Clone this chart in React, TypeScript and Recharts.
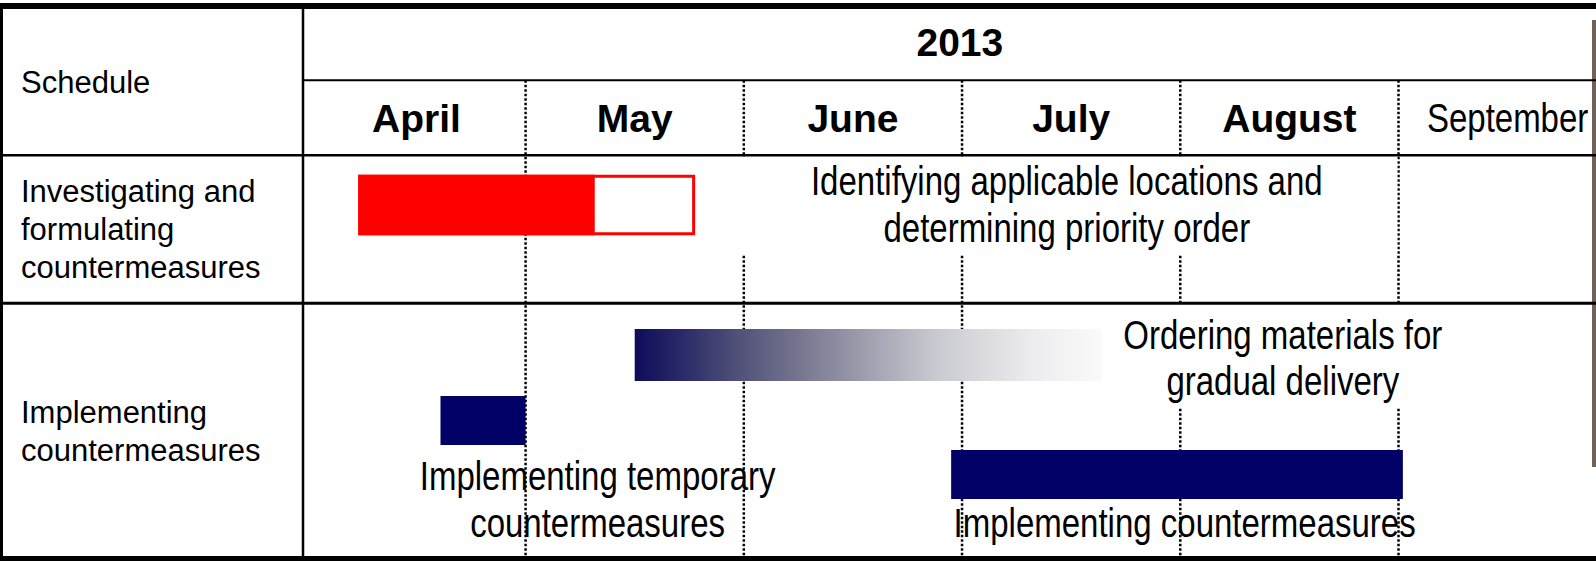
import { ComposedChart, XAxis, YAxis, ReferenceLine, ReferenceArea } from 'recharts';

// header: x is months counted from 1 April 2013
const yearLabel = '2013';
const monthNames = ['April', 'May', 'June', 'July', 'August', 'September'];
const monthCenters = [0.5, 1.5, 2.5, 3.5, 4.5, 5.5];
const monthBounds = [1, 2, 3, 4, 5];
const yearSpan = [-0.02, 6];

const rowLabels = [
  ['Schedule'],
  ['Investigating and', 'formulating', 'countermeasures'],
  ['Implementing', 'countermeasures'],
];

// tasks: investigate, order materials, temporary measures, full measures
const taskStart = [0.24, 1.5, 0.61, 2.95];
const taskEnd = [1.77, 3.64, 1.0, 5.02];
const investigateDone = 1.31;

const noteText = [
  ['Identifying applicable locations and', 'determining priority order'],
  ['Ordering materials for', 'gradual delivery'],
  ['Implementing temporary', 'countermeasures'],
  ['Implementing countermeasures'],
];

// ---- layout (y is % of table height below the top border) ----
const W = 1596;
const H = 561;
const X_DOMAIN = [-0.02, 5.905];
const GRID = { yearLine: 13.51, monthLine: 27.13, rowLine: 54.05 };
const rowLabelAt = [15.73, 35.64, 75.82];
const taskLane = [[30.95, 41.42], [58.73, 68.18], [70.91, 79.82], [80.73, 89.64]];
const taskFill = ['#ff0000', 'url(#orderFade)', '#000066', '#000066'];
const noteBox = [
  { x: [1.965, 4.995], y: [27.45, 45.09], white: true, base: [38, 84.7] },
  { x: [3.68, 5.26], y: [54.36, 73.09], white: true, base: [44, 90] },
  { x: [0.5, 2.16], y: [80.73, 100], white: false, base: [40, 86.7] },
  { x: [2.95, 5.09], y: [89.82, 100], white: false, base: [36.7] },
];

const SANS = "'Liberation Sans', Arial, sans-serif";
// the notes use a condensed face; no narrow font here, so squeeze Liberation Sans
const NARROW_K = 0.825;

const monthRows = monthNames.map((name, i) => ({ name, mid: monthCenters[i] }));

function MonthTick({ x, y, payload }: any) {
  const name = monthNames[Math.floor(payload.value)];
  const plain = name === 'September';
  if (plain) {
    return (
      <text transform={`translate(${x},0) scale(${NARROW_K},1)`} x={0} y={y + 126.3} textAnchor="middle"
        fill="#000" fontFamily={SANS} fontSize={40}>
        {name}
      </text>
    );
  }
  return (
    <text x={x} y={y + 126.3} textAnchor="middle" fill="#000" fontFamily={SANS} fontSize={39} fontWeight={700}>
      {name}
    </text>
  );
}

function RowTick({ y, index }: any) {
  const lines = rowLabels[index] || [];
  return (
    <text fill="#000" fontFamily={SANS} fontSize={31}>
      {lines.map((l, i) => (
        <tspan key={i} x={21} y={y + i * 38}>{l}</tspan>
      ))}
    </text>
  );
}

function NoteLabel({ viewBox, lines, base, bold }: any) {
  if (!viewBox) return null;
  const { x, y, width } = viewBox;
  const k = bold ? 1 : NARROW_K;
  return (
    <text transform={`translate(${x + width / 2},0) scale(${k},1)`} textAnchor="middle" fill="#000"
      fontFamily={SANS} fontSize={bold ? 39 : 40} fontWeight={bold ? 700 : 400}>
      {lines.map((l: string, i: number) => (
        <tspan key={i} x={0} y={y + base[i]}>{l}</tspan>
      ))}
    </text>
  );
}

// horizontal rule that also crosses the label column
const fullRule = (p: any) => (
  <line x1={0} y1={p.y1} x2={p.x2} y2={p.y2} stroke="#000" strokeWidth={p.strokeWidth} />
);

export default function App() {
  return (
    <div style={{ position: 'absolute', left: 0, top: 0, width: W, height: H, background: '#fff' }}>
      <div style={{ position: 'absolute', left: 0, top: 3, width: W, height: 6, background: '#000' }} />
      <div style={{ position: 'absolute', left: 0, top: 3, width: 3, height: H - 3, background: '#000' }} />
      <div style={{ position: 'absolute', left: 0, top: 556, width: W, height: 5, background: '#000' }} />
      <div style={{ position: 'absolute', left: 1592, top: 20, width: 4, height: 447, background: '#6f6259' }} />
      <div style={{ position: 'absolute', left: 0, top: 0 }}>
        <ComposedChart width={W} height={H} data={monthRows} margin={{ top: 5, right: 0, bottom: 5, left: 0 }}>
          <defs>
            <linearGradient id="orderFade" x1="0" y1="0" x2="1" y2="0">
              <stop offset="0%" stopColor="#0c0c5c" />
              <stop offset="10%" stopColor="#2a2a68" />
              <stop offset="23%" stopColor="#53537a" />
              <stop offset="35%" stopColor="#75758f" />
              <stop offset="50%" stopColor="#a0a0b0" />
              <stop offset="64%" stopColor="#c8c8d0" />
              <stop offset="85%" stopColor="#ececee" />
              <stop offset="100%" stopColor="#fafafa" />
            </linearGradient>
          </defs>
          <XAxis dataKey="mid" type="number" orientation="top" domain={X_DOMAIN} allowDataOverflow height={1}
            ticks={monthCenters} interval={0} tick={<MonthTick />} tickLine={false} axisLine={false}
            tickSize={0} tickMargin={0} />
          <YAxis type="number" domain={[0, 100]} reversed allowDataOverflow width={303}
            ticks={rowLabelAt} interval={0} tick={<RowTick />} tickLine={false}
            tickSize={0} tickMargin={0} axisLine={{ stroke: '#000', strokeWidth: 2.5 }} />

          {monthBounds.map((m) => (
            <ReferenceLine key={'m' + m} segment={[{ x: m, y: GRID.yearLine }, { x: m, y: 100 }]}
              stroke="#000" strokeWidth={2.5} strokeDasharray="2.5 2" ifOverflow="visible" zIndex={110} />
          ))}
          <ReferenceLine y={GRID.yearLine} stroke="#000" strokeWidth={2} ifOverflow="visible" zIndex={120} />
          <ReferenceLine y={GRID.monthLine} stroke="#000" strokeWidth={2.5} ifOverflow="visible"
            shape={fullRule} zIndex={120} />
          <ReferenceLine y={GRID.rowLine} stroke="#000" strokeWidth={3} ifOverflow="visible"
            shape={fullRule} zIndex={120} />

          <ReferenceArea x1={yearSpan[0]} x2={yearSpan[1]} y1={0} y2={GRID.yearLine}
            fill="none" fillOpacity={0} ifOverflow="visible" zIndex={200}
            label={<NoteLabel lines={[yearLabel]} base={[50]} bold />} />

          {noteBox.map((b, i) => (
            <ReferenceArea key={'n' + i} x1={b.x[0]} x2={b.x[1]} y1={b.y[0]} y2={b.y[1]}
              fill={b.white ? '#fff' : 'none'} fillOpacity={b.white ? 1 : 0} stroke="none"
              ifOverflow="visible" zIndex={200}
              label={<NoteLabel lines={noteText[i]} base={b.base} />} />
          ))}

          {taskStart.map((s, i) => (
            <ReferenceArea key={'t' + i} x1={s} x2={taskEnd[i]} y1={taskLane[i][0]} y2={taskLane[i][1]}
              fill={i === 0 ? '#fff' : taskFill[i]} fillOpacity={1}
              stroke={i === 0 ? '#ff0000' : 'none'} strokeWidth={i === 0 ? 3 : 0}
              ifOverflow="visible" zIndex={210} />
          ))}
          <ReferenceArea x1={taskStart[0]} x2={investigateDone} y1={taskLane[0][0]} y2={taskLane[0][1]}
            fill={taskFill[0]} fillOpacity={1} stroke="#ff0000" strokeWidth={3}
            ifOverflow="visible" zIndex={220} />
        </ComposedChart>
      </div>
    </div>
  );
}
